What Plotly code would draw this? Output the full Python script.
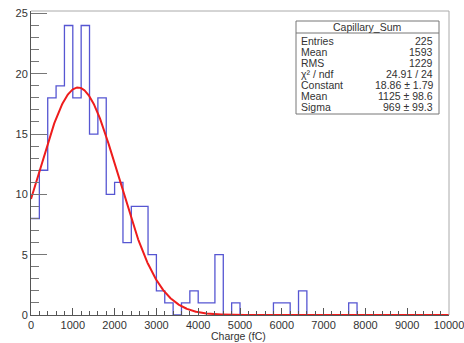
import numpy as np
import plotly.graph_objects as go

# ---- data ----
bin_width = 200
x_min, x_max = 0, 10000
counts = [8, 12, 18, 19, 24, 18, 24, 15, 18, 10,
          11, 6, 9, 9, 5, 2, 1, 0, 1, 2,
          1, 1, 5, 0, 1, 0, 0, 0, 0, 1,
          1, 0, 2, 0, 0, 0, 0, 0, 1, 0,
          0, 0, 0, 0, 0, 0, 0, 0, 0, 0]
fit_constant = 18.86
fit_mean = 1125
fit_sigma = 969

stats_title = "Capillary_Sum"
stats_names = ["Entries", "Mean", "RMS", "χ² / ndf", "Constant", "Mean", "Sigma"]
stats_values = ["225", "1593", "1229", "24.91 / 24", "18.86 ± 1.79", "1125 ± 98.6", "969 ± 99.3"]

x_ticks = list(range(0, 10001, 1000))
y_ticks = [0, 5, 10, 15, 20, 25]
x_title = "Charge (fC)"

# ---- build ----
edges = [x_min + i * bin_width for i in range(len(counts) + 1)]
step_y = counts + [counts[-1]]

xf = np.linspace(x_min, x_max, 1000)
yf = fit_constant * np.exp(-0.5 * ((xf - fit_mean) / fit_sigma) ** 2)

fig = go.Figure()
fig.add_trace(go.Scatter(x=edges, y=step_y, mode="lines", line_shape="hv",
                         line=dict(color="#5656d2", width=1.3), hoverinfo="skip"))
fig.add_trace(go.Scatter(x=xf, y=yf, mode="lines",
                         line=dict(color="#ee1c1c", width=2), hoverinfo="skip"))

W, H = 464, 343
L, R, T, B = 31, 449, 11, 315
def px(xp):
    return (xp - L) / (R - L)
def py(yp):
    return (B - yp) / (B - T)

font = "Liberation Sans, Arial, sans-serif"
fig.update_layout(
    width=W, height=H,
    margin=dict(l=L, r=W - R, t=T, b=H - B, autoexpand=False),
    paper_bgcolor="white", plot_bgcolor="white",
    showlegend=False,
    font=dict(family=font, size=11, color="#333"),
    xaxis=dict(range=[x_min, x_max], tickvals=x_ticks, ticktext=[str(v) for v in x_ticks],
               ticks="inside", ticklen=7, tickcolor="#555", tickwidth=1,
               ticklabeloverflow="allow", automargin=False,
               minor=dict(dtick=200, ticks="inside", ticklen=4, tickcolor="#555"),
               showline=True, linecolor="#555", linewidth=1,
               showgrid=False, zeroline=False, tickfont=dict(size=11, color="#333")),
    yaxis=dict(range=[0, 25.2], tickvals=y_ticks, ticks="inside", ticklen=16,
               tickcolor="#777", tickwidth=1, automargin=False,
               minor=dict(dtick=1, ticks="inside", ticklen=8, tickcolor="#777"),
               showline=True, linecolor="#555", linewidth=1,
               showgrid=False, zeroline=False, tickfont=dict(size=11, color="#333")),
)

# frame top/right
fig.add_shape(type="line", xref="paper", yref="paper", x0=0, x1=1, y0=1, y1=1,
              line=dict(color="#aaa", width=1))
fig.add_shape(type="line", xref="paper", yref="paper", x0=1, x1=1, y0=0, y1=1,
              line=dict(color="#aaa", width=1))

# stats box
bx0, bx1, by0, by1 = 296, 439, 21, 114
fig.add_shape(type="rect", xref="paper", yref="paper", x0=px(bx0), x1=px(bx1),
              y0=py(by1), y1=py(by0), line=dict(color="#777", width=1), fillcolor="white")
fig.add_shape(type="line", xref="paper", yref="paper", x0=px(bx0), x1=px(bx1),
              y0=py(33), y1=py(33), line=dict(color="#777", width=1))
fig.add_annotation(xref="paper", yref="paper", x=px((bx0 + bx1) / 2), y=py(27),
                   text=stats_title, showarrow=False, xanchor="center", yanchor="middle",
                   font=dict(size=10.5, color="#333"))
row0, drow = 40.7, 11.1
for i, (n, v) in enumerate(zip(stats_names, stats_values)):
    yy = py(row0 + i * drow)
    fig.add_annotation(xref="paper", yref="paper", x=px(299), y=yy, text=n, showarrow=False,
                       xanchor="left", yanchor="middle", font=dict(size=10.5, color="#333"))
    fig.add_annotation(xref="paper", yref="paper", x=px(435), y=yy, text=v, showarrow=False,
                       xanchor="right", yanchor="middle", font=dict(size=10.5, color="#333"))

fig.add_annotation(xref="paper", yref="paper", x=px(238), y=py(336), text=x_title,
                   showarrow=False, xanchor="center", yanchor="middle",
                   font=dict(size=10.5, color="#333"))

fig.write_html("out.html")
